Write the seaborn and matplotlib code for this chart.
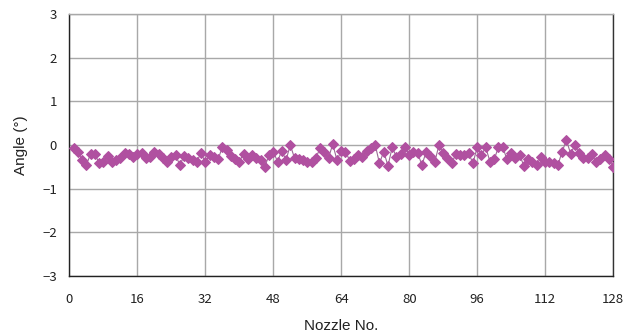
import numpy as np
import pandas as pd
import seaborn as sns
import matplotlib.pyplot as plt

nozzle = list(range(1, 129))
angle = [
    -0.08, -0.15, -0.35, -0.46, -0.20, -0.20, -0.42, -0.38, -0.25, -0.38,
    -0.35, -0.30, -0.18, -0.20, -0.27, -0.20, -0.18, -0.30, -0.28, -0.15,
    -0.20, -0.30, -0.38, -0.27, -0.23, -0.46, -0.25, -0.30, -0.35, -0.38,
    -0.18, -0.40, -0.23, -0.28, -0.33, -0.05, -0.12, -0.25, -0.33, -0.38,
    -0.20, -0.33, -0.22, -0.30, -0.35, -0.50, -0.23, -0.15, -0.38, -0.13,
    -0.35, 0.00, -0.30, -0.33, -0.35, -0.38, -0.40, -0.30, -0.08, -0.15,
    -0.30, 0.02, -0.35, -0.13, -0.15, -0.36, -0.33, -0.23, -0.27, -0.13,
    -0.08, 0.00, -0.42, -0.15, -0.48, -0.05, -0.28, -0.20, -0.04, -0.23,
    -0.15, -0.19, -0.46, -0.15, -0.25, -0.40, 0.00, -0.19, -0.30, -0.42,
    -0.20, -0.23, -0.23, -0.19, -0.42, -0.05, -0.23, -0.05, -0.38, -0.33,
    -0.05, -0.04, -0.33, -0.18, -0.30, -0.23, -0.48, -0.32, -0.38, -0.46,
    -0.28, -0.38, -0.38, -0.42, -0.46, -0.15, 0.11, -0.20, 0.00, -0.19,
    -0.30, -0.30, -0.20, -0.40, -0.33, -0.23, -0.33, -0.50,
]
x_ticks = [0, 16, 32, 48, 64, 80, 96, 112, 128]
y_ticks = [-3, -2, -1, 0, 1, 2, 3]

df = pd.DataFrame({"Nozzle": nozzle, "Angle": angle})

sns.set_style("white")
plt.rcParams['font.family'] = ['Noto Sans CJK JP', 'DejaVu Sans']

fig = plt.figure(figsize=(6.25, 3.36), dpi=100)
ax = fig.add_axes([0.111, 0.179, 0.870, 0.779])

sns.lineplot(data=df, x="Nozzle", y="Angle", ax=ax,
             color="#9a6a94", linewidth=0.8,
             marker="D", markersize=5, markerfacecolor="#b050a0",
             markeredgecolor="#b050a0", zorder=3)

ax.set_xlim(0, 128)
ax.set_ylim(-3, 3)
ax.set_xticks(x_ticks)
ax.set_yticks(y_ticks)
ax.set_yticklabels([str(v).replace("-", "\u2212") for v in y_ticks])
ax.grid(True, color="#a8a8a8", linewidth=1.0)
ax.set_axisbelow(True)
ax.tick_params(direction="in", length=4, width=1, colors="#222222",
               labelsize=9.5, pad=9, labelcolor="#222222")
ax.tick_params(axis="x", pad=12)
for s in ax.spines.values():
    s.set_color("#a8a8a8")
    s.set_linewidth(1.0)
ax.spines["left"].set_color("#222222")
ax.spines["bottom"].set_color("#222222")
ax.spines["right"].set_color("#333333")

lab_font = ['Liberation Sans', 'DejaVu Sans']
ax.set_xlabel("Nozzle No.", fontsize=11, labelpad=10, color="#222222",
              family=lab_font)
ax.set_ylabel("Angle (°)", fontsize=11, labelpad=10, color="#222222",
              family=lab_font)

fig.savefig("out.png", dpi=100)
